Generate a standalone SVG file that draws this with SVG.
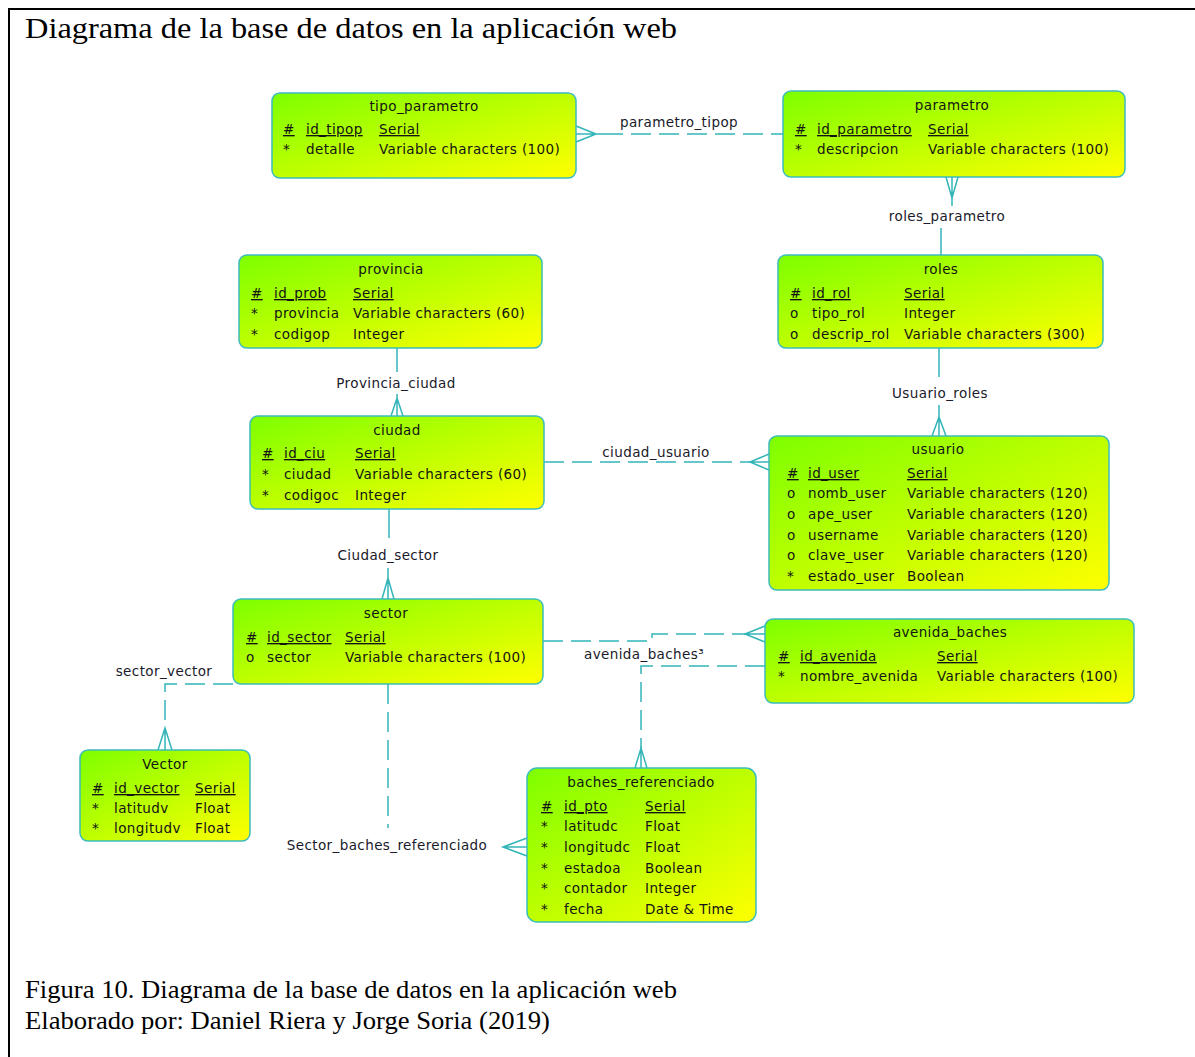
<svg xmlns="http://www.w3.org/2000/svg" width="1195" height="1057" viewBox="0 0 1195 1057">
<defs>
<linearGradient id="g" x1="0" y1="0" x2="1" y2="1">
<stop offset="0" stop-color="#7dff00"/>
<stop offset="1" stop-color="#ffff00"/>
</linearGradient>
<style>
.ent{fill:url(#g);stroke:#3cbcbc;stroke-width:1.5}
.t{font-family:'DejaVu Sans',sans-serif;font-size:13.5px;letter-spacing:0.4px;fill:#141414}
.m{text-anchor:middle}
.u{text-decoration:underline}
.c{stroke:#33b5b8;stroke-width:1.5;fill:none}
.d{stroke-dasharray:20 8}
.lb{font-family:'DejaVu Sans',sans-serif;font-size:13.5px;letter-spacing:0.4px;fill:#1a1a2a;text-anchor:middle}
.cap{font-family:'Liberation Serif','Times New Roman',serif;fill:#000}
.fr{stroke:#000;stroke-width:2;fill:none}
</style>
</defs>
<rect width="1195" height="1057" fill="#fff"/>
<path class="fr" d="M8,9 H1195 M9,9 V1057"/>
<text class="cap" x="25" y="38" font-size="30" textLength="652" lengthAdjust="spacingAndGlyphs">Diagrama de la  base de datos en la aplicación web</text>
<text class="cap" x="25" y="998" font-size="26" textLength="652" lengthAdjust="spacingAndGlyphs">Figura 10. Diagrama de la base de datos en la aplicación web</text>
<text class="cap" x="25" y="1029" font-size="26" textLength="525" lengthAdjust="spacingAndGlyphs">Elaborado por: Daniel Riera y Jorge Soria (2019)</text>

<g id="connectors">
<path class="c" d="M576,126 L596,134 L576,142 M576,134 H603"/>
<path class="c d" d="M603,134 H783"/>
<text class="lb" x="679" y="127">parametro_tipop</text>
<path class="c" d="M946,177 L952,198 L958,177 M952,177 V206 M941,228 V255"/>
<text class="lb" x="947" y="221">roles_parametro</text>
<path class="c" d="M397,348 V372 M397,394 V416 M391,416 L397,398 L403,416"/>
<text class="lb" x="396" y="388">Provincia_ciudad</text>
<path class="c" d="M939,348 V377 M939,405 V436 M932,436 L939,417 L946,436"/>
<text class="lb" x="940" y="398">Usuario_roles</text>
<path class="c d" d="M544,462 H750"/>
<path class="c" d="M769,454 L750,462 L769,470 M750,462 H769"/>
<text class="lb" x="656" y="457">ciudad_usuario</text>
<path class="c" d="M389,509 V538 M388,568 V599 M382,599 L388,578 L394,599"/>
<text class="lb" x="388" y="560">Ciudad_sector</text>
<path class="c d" d="M233,684 H165 V728"/>
<path class="c" d="M165,728 V750 M158,750 L165,728 L172,750"/>
<text class="lb" x="164" y="676">sector_vector</text>
<path class="c d" d="M388,684 V828"/>
<path class="c" d="M503,847 H527 M527,838 L503,847 L527,856"/>
<text class="lb" x="387" y="850">Sector_baches_referenciado</text>
<path class="c d" d="M543,641 H652 V634 H745"/>
<path class="c" d="M765,626 L745,634 L765,642 M745,634 H765"/>
<path class="c d" d="M765,666 H641 V748"/>
<path class="c" d="M641,748 V768 M635,768 L641,748 L647,768"/>
<text class="lb" x="644" y="659">avenida_baches³</text>
</g>

<g id="tipo_parametro">
<rect class="ent" x="272" y="93" width="304" height="85" rx="8"/>
<text class="t m" x="424" y="111">tipo_parametro</text>
<text class="t u" x="283" y="134">#</text><text class="t u" x="306" y="134">id_tipop</text><text class="t u" x="379" y="134">Serial</text>
<text class="t" x="283" y="154">*</text><text class="t" x="306" y="154">detalle</text><text class="t" x="379" y="154">Variable characters (100)</text>
</g>

<g id="parametro">
<rect class="ent" x="783" y="91" width="342" height="86" rx="8"/>
<text class="t m" x="952" y="110">parametro</text>
<text class="t u" x="795" y="134">#</text><text class="t u" x="817" y="134">id_parametro</text><text class="t u" x="928" y="134">Serial</text>
<text class="t" x="795" y="154">*</text><text class="t" x="817" y="154">descripcion</text><text class="t" x="928" y="154">Variable characters (100)</text>
</g>

<g id="provincia">
<rect class="ent" x="239" y="255" width="303" height="93" rx="8"/>
<text class="t m" x="391" y="274">provincia</text>
<text class="t u" x="251" y="298">#</text><text class="t u" x="274" y="298">id_prob</text><text class="t u" x="353" y="298">Serial</text>
<text class="t" x="251" y="318">*</text><text class="t" x="274" y="318">provincia</text><text class="t" x="353" y="318">Variable characters (60)</text>
<text class="t" x="251" y="339">*</text><text class="t" x="274" y="339">codigop</text><text class="t" x="353" y="339">Integer</text>
</g>

<g id="roles">
<rect class="ent" x="778" y="255" width="325" height="93" rx="8"/>
<text class="t m" x="941" y="274">roles</text>
<text class="t u" x="790" y="298">#</text><text class="t u" x="812" y="298">id_rol</text><text class="t u" x="904" y="298">Serial</text>
<text class="t" x="790" y="318">o</text><text class="t" x="812" y="318">tipo_rol</text><text class="t" x="904" y="318">Integer</text>
<text class="t" x="790" y="339">o</text><text class="t" x="812" y="339">descrip_rol</text><text class="t" x="904" y="339">Variable characters (300)</text>
</g>

<g id="ciudad">
<rect class="ent" x="250" y="416" width="294" height="93" rx="8"/>
<text class="t m" x="397" y="435">ciudad</text>
<text class="t u" x="262" y="458">#</text><text class="t u" x="284" y="458">id_ciu</text><text class="t u" x="355" y="458">Serial</text>
<text class="t" x="262" y="479">*</text><text class="t" x="284" y="479">ciudad</text><text class="t" x="355" y="479">Variable characters (60)</text>
<text class="t" x="262" y="500">*</text><text class="t" x="284" y="500">codigoc</text><text class="t" x="355" y="500">Integer</text>
</g>

<g id="usuario">
<rect class="ent" x="769" y="436" width="340" height="154" rx="8"/>
<text class="t m" x="938" y="454">usuario</text>
<text class="t u" x="787" y="478">#</text><text class="t u" x="808" y="478">id_user</text><text class="t u" x="907" y="478">Serial</text>
<text class="t" x="787" y="498">o</text><text class="t" x="808" y="498">nomb_user</text><text class="t" x="907" y="498">Variable characters (120)</text>
<text class="t" x="787" y="519">o</text><text class="t" x="808" y="519">ape_user</text><text class="t" x="907" y="519">Variable characters (120)</text>
<text class="t" x="787" y="540">o</text><text class="t" x="808" y="540">username</text><text class="t" x="907" y="540">Variable characters (120)</text>
<text class="t" x="787" y="560">o</text><text class="t" x="808" y="560">clave_user</text><text class="t" x="907" y="560">Variable characters (120)</text>
<text class="t" x="787" y="581">*</text><text class="t" x="808" y="581">estado_user</text><text class="t" x="907" y="581">Boolean</text>
</g>

<g id="sector">
<rect class="ent" x="233" y="599" width="310" height="85" rx="8"/>
<text class="t m" x="386" y="618">sector</text>
<text class="t u" x="246" y="642">#</text><text class="t u" x="267" y="642">id_sector</text><text class="t u" x="345" y="642">Serial</text>
<text class="t" x="246" y="662">o</text><text class="t" x="267" y="662">sector</text><text class="t" x="345" y="662">Variable characters (100)</text>
</g>

<g id="avenida_baches">
<rect class="ent" x="765" y="619" width="369" height="84" rx="8"/>
<text class="t m" x="950" y="637">avenida_baches</text>
<text class="t u" x="778" y="661">#</text><text class="t u" x="800" y="661">id_avenida</text><text class="t u" x="937" y="661">Serial</text>
<text class="t" x="778" y="681">*</text><text class="t" x="800" y="681">nombre_avenida</text><text class="t" x="937" y="681">Variable characters (100)</text>
</g>

<g id="Vector">
<rect class="ent" x="80" y="750" width="170" height="91" rx="8"/>
<text class="t m" x="165" y="769">Vector</text>
<text class="t u" x="92" y="793">#</text><text class="t u" x="114" y="793">id_vector</text><text class="t u" x="195" y="793">Serial</text>
<text class="t" x="92" y="813">*</text><text class="t" x="114" y="813">latitudv</text><text class="t" x="195" y="813">Float</text>
<text class="t" x="92" y="833">*</text><text class="t" x="114" y="833">longitudv</text><text class="t" x="195" y="833">Float</text>
</g>

<g id="baches_referenciado">
<rect class="ent" x="527" y="768" width="229" height="154" rx="10"/>
<text class="t m" x="641" y="787">baches_referenciado</text>
<text class="t u" x="541" y="811">#</text><text class="t u" x="564" y="811">id_pto</text><text class="t u" x="645" y="811">Serial</text>
<text class="t" x="541" y="831">*</text><text class="t" x="564" y="831">latitudc</text><text class="t" x="645" y="831">Float</text>
<text class="t" x="541" y="852">*</text><text class="t" x="564" y="852">longitudc</text><text class="t" x="645" y="852">Float</text>
<text class="t" x="541" y="873">*</text><text class="t" x="564" y="873">estadoa</text><text class="t" x="645" y="873">Boolean</text>
<text class="t" x="541" y="893">*</text><text class="t" x="564" y="893">contador</text><text class="t" x="645" y="893">Integer</text>
<text class="t" x="541" y="914">*</text><text class="t" x="564" y="914">fecha</text><text class="t" x="645" y="914">Date &amp; Time</text>
</g>
</svg>
